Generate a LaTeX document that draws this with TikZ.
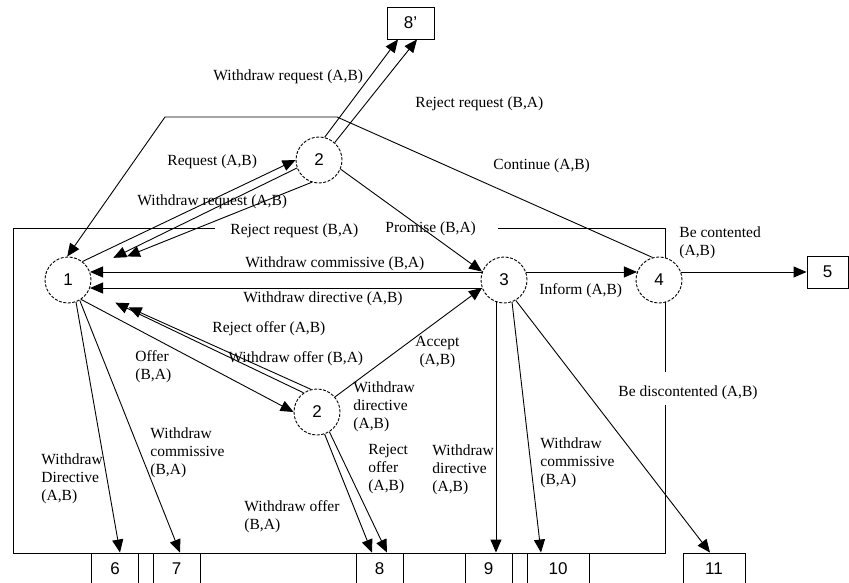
\documentclass[tikz,border=0pt]{standalone}
\usepackage{fontspec}
\setmainfont{Liberation Serif}
\newfontfamily\numfont{Liberation Sans}
\usetikzlibrary{arrows.meta}

\begin{document}
\begin{tikzpicture}[
  x=1pt, y=-1pt,
  state/.style={circle, draw, dash pattern=on 3pt off 1.5pt, fill=white, minimum size=46pt, inner sep=0pt, font=\numfont\fontsize{17}{20}\selectfont},
  box/.style={rectangle, draw, minimum width=47pt, minimum height=32pt, inner sep=0pt, font=\numfont\fontsize{17}{20}\selectfont},
  lbl/.style={anchor=north west, inner sep=0pt, align=left, font=\fontsize{15.5}{18}\selectfont},
  arr/.style={-{Triangle[length=13pt,width=11pt]}},
  line width=0.9pt
]
\useasboundingbox (0,0) rectangle (849,583);
\clip (0,0) rectangle (849,583);

% frame
\draw (215,228) -- (13,228) -- (13,553) -- (665,553) -- (665,405);
\draw (665,372) -- (665,228) -- (498,228);

% states
\node[state] (s1) at (68,280) {1};
\node[state] (s2a) at (319,160) {2};
\node[state] (s3) at (504,280) {3};
\node[state] (s4) at (659,280) {4};
\node[state] (s2b) at (317,412) {2};

% end boxes
\node[box] (b8p) at (410.5,23) {8’};
\node[box, minimum width=41pt] (b5) at (827.5,272) {5};
\node[box] (b6) at (115,569) {6};
\node[box] (b7) at (176.5,569) {7};
\node[box] (b8) at (379.5,569) {8};
\node[box] (b9) at (488.5,569) {9};
\node[box, minimum width=62pt] (b10) at (558,569) {10};
\node[box, minimum width=62pt] (b11) at (714,569) {11};

% request
\draw[arr] (s1.52) -- (s2a.180);
\draw[arr, shorten >=27pt] (s2a.200) -- (s1);
\draw[arr, shorten >=40pt] (s2a.252) -- (s1);
\draw[arr] (s2a.76) -- ([xshift=-12.5pt]b8p.south);
\draw[arr] (s2a.48) -- ([xshift=6.5pt]b8p.south);
\draw[arr] (s2a.337) -- (s3.159);
\draw[arr] (s4.106) -- (337,117) -- (165,117) -- (s1.92);

% main line
\draw[arr] (s3.160) -- (s1.20);
\draw[arr] (s3.200) -- (s1.340);
\draw[arr] (s3.20) -- (s4.160);
\draw[arr] (s4.20) -- (s4.20 -| b5.west);

% offer
\draw[arr] (s1.304) -- (s2b.180);
\draw[arr, shorten >=29pt] (s2b.125) -- (s1);
\draw[arr, shorten >=43pt] (s2b.105) -- (s1);
\draw[arr] (s2b.40) -- (s3.200);
\draw[arr] (s2b.289) -- ([xshift=-7.5pt]b8.north);
\draw[arr] (s2b.302) -- ([xshift=7.5pt]b8.north);

% withdrawals
\draw[arr] (s1.290) -- ([xshift=5pt]b6.north);
\draw[arr] (s1.300) -- ([xshift=3.5pt]b7.north);
\draw[arr] (s3.250) -- (s3.250 |- b9.north);
\draw[arr] (s3.290) -- ([xshift=-17pt]b10.north);
\draw[arr] (s3.300) -- ([xshift=-4pt]b11.north);

% labels
\node[lbl] (lwrq8) at (213,69) {Withdraw request (A,B)};
\node[lbl] (lrjq8) at (415,96) {Reject request (B,A)};
\node[lbl] (lrq) at (167,154) {Request (A,B)};
\node[lbl] (lcont) at (493,158) {Continue (A,B)};
\node[lbl] (lwrq1) at (137,194) {Withdraw request (A,B)};
\node[lbl] (lrjq1) at (230,223) {Reject request (B,A)};
\node[lbl] (lprom) at (385,221) {Promise (B,A)};
\node[lbl] (lcontd) at (679,226) {Be contented\\(A,B)};
\node[lbl] (lwc) at (245,256) {Withdraw commissive (B,A)};
\node[lbl] (lwd) at (243,291) {Withdraw directive (A,B)};
\node[lbl] (linf) at (539,283) {Inform (A,B)};
\node[lbl] (lrjo) at (212,321) {Reject offer (A,B)};
\node[lbl] (loff) at (135,350) {Offer\\(B,A)};
\node[lbl] (lwo) at (228,351) {Withdraw offer (B,A)};
\node[lbl, align=center] (lacc) at (415,336) {Accept\\(A,B)};
\node[lbl] (lwd2) at (353,381) {Withdraw\\directive\\(A,B)};
\node[lbl] (lwd6) at (41,453) {Withdraw\\Directive\\(A,B)};
\node[lbl] (lwc7) at (150,427) {Withdraw\\commissive\\(B,A)};
\node[lbl] (lwo8) at (244,500) {Withdraw offer\\(B,A)};
\node[lbl] (lrjo8) at (368,444) {Reject\\offer\\(A,B)};
\node[lbl] (lwd9) at (432,444) {Withdraw\\directive\\(A,B)};
\node[lbl] (lwc10) at (540,437) {Withdraw\\commissive\\(B,A)};
\node[lbl] (ldis) at (618,385) {Be discontented (A,B)};
\end{tikzpicture}
\end{document}
